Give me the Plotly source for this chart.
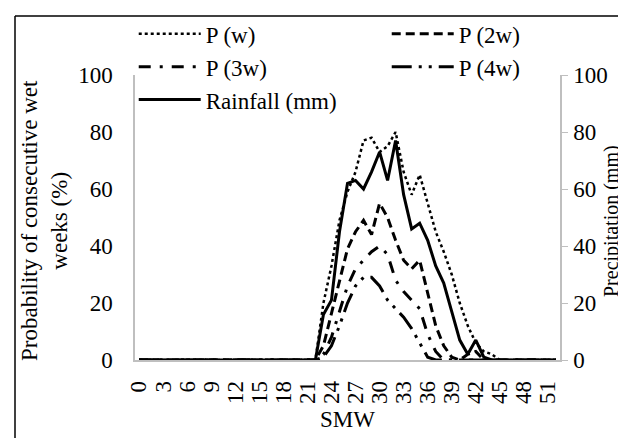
import plotly.graph_objects as go

weeks = list(range(53))
zeros23 = [0] * 23
p_w = zeros23 + [20, 33, 49, 59, 66, 77, 78, 73, 75, 80, 66, 58, 65, 55, 45, 38, 30, 20, 12, 6, 3, 2, 0] + [0] * 7
p_2w = zeros23 + [5, 16, 28, 39, 45, 49, 44, 55, 50, 42, 35, 32, 35, 24, 12, 5, 1, 0, 2, 3, 0, 0, 0] + [0] * 7
p_3w = zeros23 + [2, 8, 17, 26, 32, 35, 38, 40, 37, 28, 24, 21, 18, 9, 3, 0, 0, 0, 0, 0, 0, 0, 0] + [0] * 7
p_4w = zeros23 + [1, 5, 12, 20, 26, 29, 29, 26, 21, 18, 15, 11, 6, 1, 0, 0, 0, 0, 0, 0, 0, 0, 0] + [0] * 7
rain = zeros23 + [16, 21, 45, 62, 63, 60, 66, 73, 63, 77, 58, 46, 48, 42, 33, 27, 17, 7, 2, 7, 1, 0, 0] + [0] * 7

tick_vals = list(range(0, 52, 3))
y_ticks = [0, 20, 40, 60, 80, 100]

FONT = "Liberation Serif, Times New Roman, serif"
L, R, T, B = 127, 74, 67, 86
PW, PH = 626 - L - R, 438 - T - B


def px(xp):
    return (xp - L) / PW


def py(yp):
    return (438 - B - yp) / PH


fig = go.Figure()
fig.add_trace(go.Scatter(x=weeks, y=p_w, name="P (w)", mode="lines",
                         line=dict(color="black", width=2.5, dash="dot")))
fig.add_trace(go.Scatter(x=weeks, y=p_2w, name="P (2w)", mode="lines",
                         line=dict(color="black", width=3, dash="9px,5px")))
fig.add_trace(go.Scatter(x=weeks, y=p_3w, name="P (3w)", mode="lines",
                         line=dict(color="black", width=3, dash="12px,9px,3px,9px")))
fig.add_trace(go.Scatter(x=weeks, y=p_4w, name="P (4w)", mode="lines",
                         line=dict(color="black", width=3, dash="20px,7px,3px,7px,3px,7px")))
fig.add_trace(go.Scatter(x=weeks, y=rain, name="Rainfall (mm)", mode="lines", yaxis="y2",
                         line=dict(color="black", width=3)))

fig.update_layout(
    width=626, height=438,
    margin=dict(l=L, r=R, t=T, b=B, autoexpand=False),
    paper_bgcolor="white", plot_bgcolor="white",
    font=dict(family=FONT, size=23, color="black"),
    showlegend=True,
    legend=dict(orientation="h", x=-0.003, xanchor="left", y=1.22, yanchor="top",
                entrywidth=176, entrywidthmode="pixels", itemwidth=62,
                font=dict(family=FONT, size=23, color="black"),
                bgcolor="rgba(0,0,0,0)", tracegroupgap=0),
    xaxis=dict(range=[-0.5, 52.5], tickmode="array", tickvals=tick_vals,
               ticktext=[str(v) for v in tick_vals], tickangle=-90,
               tickfont=dict(family=FONT, size=23), ticklabelstandoff=10,
               showline=True, linecolor="#BFBFBF", linewidth=1.5, showgrid=False,
               zeroline=False, ticks="",
               title=dict(text="SMW", standoff=8, font=dict(family=FONT, size=23))),
    yaxis=dict(range=[0, 100], tickvals=y_ticks, showline=True, linecolor="#BFBFBF",
               linewidth=1.5, showgrid=False, zeroline=False, ticks="",
               tickfont=dict(family=FONT, size=23),
               ticklabelstandoff=16),
    yaxis2=dict(range=[0, 100], tickvals=y_ticks, overlaying="y", side="right",
                showline=True, linecolor="#BFBFBF", linewidth=1.5, showgrid=False,
                zeroline=False, ticks="outside", ticklen=6, tickcolor="#BFBFBF",
                tickfont=dict(family=FONT, size=23),
                ticklabelstandoff=1),
    annotations=[
        dict(text="Probability of consecutive wet<br>weeks (%)", textangle=-90,
             xref="paper", yref="paper", x=px(36), y=py(213), xanchor="center",
             yanchor="middle", showarrow=False, font=dict(family=FONT, size=23)),
        dict(text="Precipitation (mm)", textangle=-90,
             xref="paper", yref="paper", x=px(603), y=py(213), xanchor="center",
             yanchor="middle", showarrow=False, font=dict(family=FONT, size=20)),
    ],
    shapes=[
        dict(type="line", xref="paper", yref="paper", x0=px(7), x1=px(640),
             y0=py(8), y1=py(8), line=dict(color="black", width=1.5)),
        dict(type="line", xref="paper", yref="paper", x0=px(7), x1=px(7),
             y0=py(8), y1=py(450), line=dict(color="black", width=1.5)),
    ],
)

fig.write_html("out.html")
